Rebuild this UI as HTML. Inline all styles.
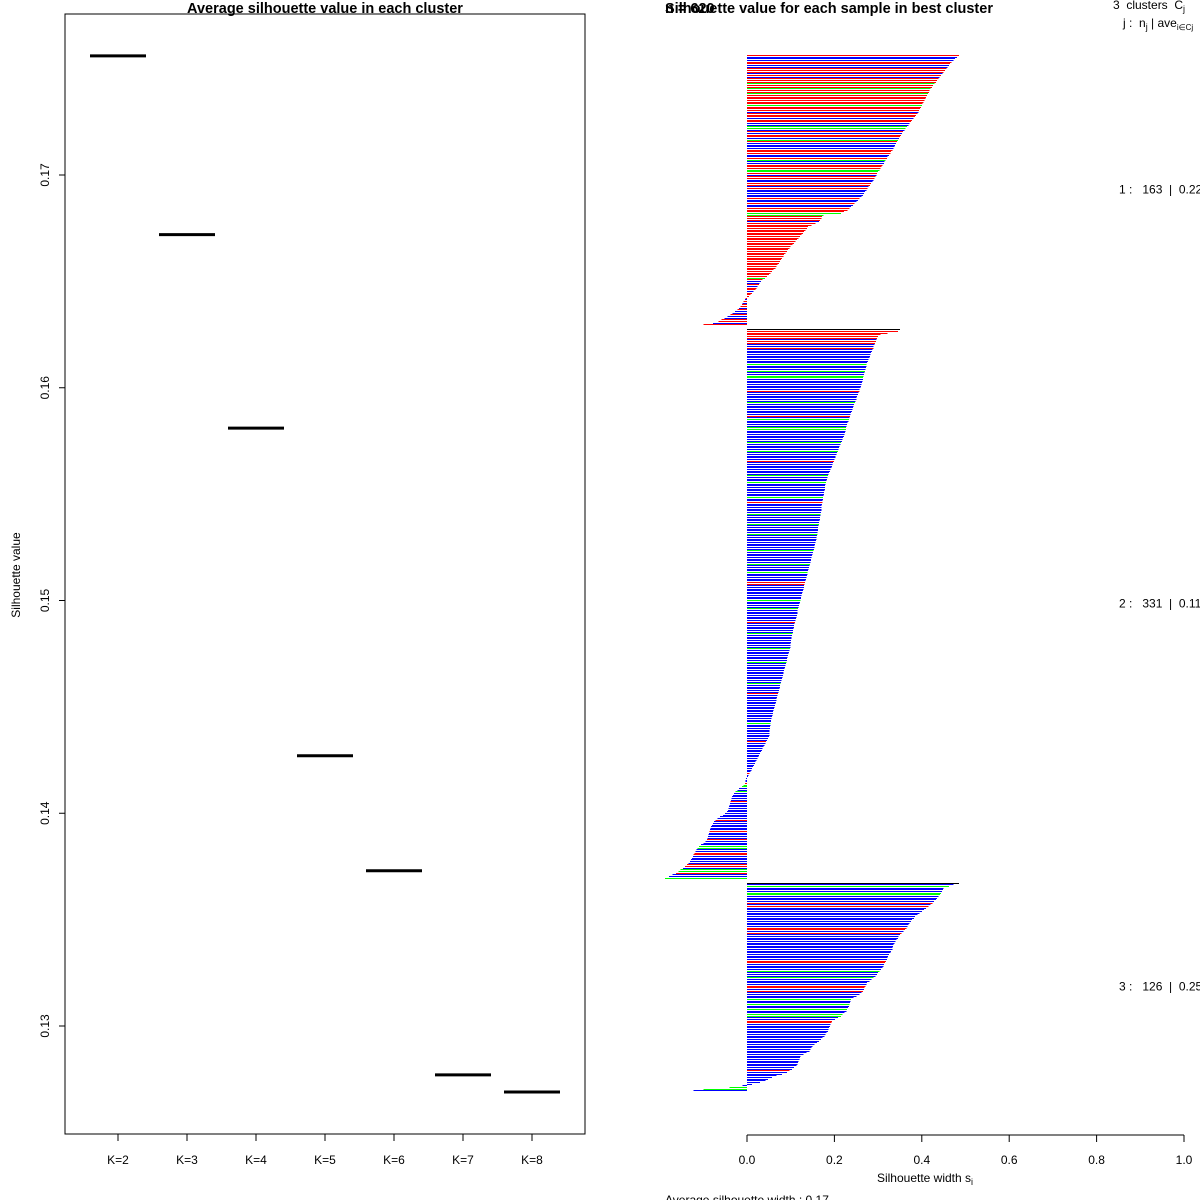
<!DOCTYPE html>
<html><head><meta charset="utf-8"><style>
html,body{margin:0;padding:0;background:#fff}
svg{display:block;font-family:"Liberation Sans",sans-serif}
</style></head><body>
<svg id="c" width="1200" height="1200" viewBox="0 0 1200 1200">
<rect x="0" y="0" width="1200" height="1200" fill="#fff"/>
<g id="left">
<rect x="65" y="14" width="520" height="1120" fill="none" stroke="#000" stroke-width="1"/>
<text x="325" y="13" text-anchor="middle" font-size="14.5" font-weight="bold">Average silhouette value in each cluster</text>
<text transform="translate(20,575) rotate(-90)" text-anchor="middle" font-size="12">Silhouette value</text>
</g>
<g id="right">
<text x="665" y="13" font-size="14.5" font-weight="bold">n = 620</text>
<text x="665" y="13" font-size="14.5" font-weight="bold">Silhouette value for each sample in best cluster</text>
<text x="1113" y="9" font-size="12" style="white-space:pre">3  clusters  C<tspan font-size="9" dy="3">j</tspan></text>
<text x="1123" y="27" font-size="12" style="white-space:pre">j :  n<tspan font-size="9" dy="3">j</tspan><tspan dy="-3"> | ave</tspan><tspan font-size="8" dy="3">i∈Cj</tspan><tspan dy="-3">  s</tspan></text>
<line x1="747" y1="1135" x2="1184" y2="1135" stroke="#000"/>
<text x="925" y="1182" text-anchor="middle" font-size="12">Silhouette width s<tspan font-size="9" dy="3">i</tspan></text>
<text x="665" y="1204" font-size="12">Average silhouette width :  0.17</text>
</g>
</svg>
<script>
// Left chart data
const kLabels = ["K=2","K=3","K=4","K=5","K=6","K=7","K=8"];
const kAvg = [0.1756,0.1672,0.1581,0.1427,0.1373,0.1277,0.1269];
const yTicks = [0.13,0.14,0.15,0.16,0.17];
const yTickLabels = ["0.13","0.14","0.15","0.16","0.17"];
// Right chart data (silhouette widths in thousandths, per cluster, sorted)
const clusterNames = ["1","2","3"];
const clusterSizes = [163,331,126];
const clusterAvg = ["0.22","0.11","0.25"];
const sil1 = [485,480,476,472,468,465,462,459,456,453,450,447,444,441,438,435,432,429,426,423,420,418,416,414,412,410,408,406,404,402,400,398,396,394,392,390,387,384,381,378,375,372,369,366,363,360,357,355,352,350,348,345,343,341,339,337,335,333,330,328,325,322,320,317,315,313,310,308,305,303,300,298,296,294,292,290,287,284,281,278,276,273,270,268,265,262,258,254,250,246,242,238,234,230,222,215,175,172,170,167,165,157,148,140,137,134,131,128,125,121,118,114,111,107,104,100,97,94,91,88,85,83,80,78,75,73,70,68,65,61,57,54,50,46,41,36,32,29,27,24,22,19,15,12,8,5,-3,-5,-8,-10,-12,-15,-18,-22,-28,-33,-38,-45,-52,-58,-65,-78,-100];
const sil2 = [350,345,322,305,300,298,296,295,293,292,290,289,287,286,284,283,281,280,278,277,275,274,273,272,271,270,269,268,267,266,265,264,263,262,261,260,258,257,255,254,252,251,250,248,247,245,244,243,241,240,238,237,236,234,233,232,230,229,228,227,226,225,224,223,222,220,218,217,215,214,212,211,209,208,206,205,203,202,200,199,197,196,194,193,191,190,188,187,185,184,183,182,181,180,179,178,178,177,176,176,175,174,174,173,173,172,171,171,170,170,169,168,168,167,167,166,165,165,164,163,163,162,161,161,160,159,159,158,157,156,155,154,153,152,151,150,149,148,147,146,145,144,143,142,141,140,139,138,137,136,135,134,133,132,131,130,129,128,127,126,125,124,123,122,121,120,119,118,117,116,115,115,114,113,112,111,110,109,108,107,106,105,105,104,103,102,102,101,101,100,100,99,98,97,96,95,94,93,92,91,90,89,88,87,86,85,84,83,82,81,80,79,78,77,76,75,74,73,72,71,70,69,68,67,66,65,64,63,62,61,60,59,58,57,56,55,55,54,54,53,53,52,52,51,51,50,48,46,44,42,40,38,36,34,32,30,28,26,24,22,20,18,16,14,12,10,8,6,4,2,-2,-3,-4,-5,-8,-12,-18,-22,-26,-30,-32,-34,-36,-37,-38,-39,-40,-41,-42,-44,-46,-50,-55,-62,-68,-72,-75,-78,-80,-82,-84,-85,-86,-87,-88,-89,-90,-92,-95,-100,-105,-110,-113,-116,-118,-120,-122,-124,-126,-128,-131,-134,-137,-142,-147,-152,-157,-163,-170,-178,-188];
const sil3 = [485,472,462,450,448,446,444,442,438,435,432,428,424,420,415,410,405,400,395,390,385,382,378,375,372,370,367,365,362,358,354,350,347,345,342,340,338,335,334,333,333,330,328,325,323,321,320,318,316,314,312,310,307,303,300,297,294,290,285,280,275,273,271,269,268,265,262,258,251,244,238,237,236,235,233,231,229,228,223,219,215,208,201,195,193,191,190,188,186,185,182,180,177,173,169,165,160,155,150,148,145,143,136,129,122,121,120,118,117,115,113,108,103,97,92,80,68,57,48,42,30,12,-10,-40,-99,-122];
const col1 = ["rbbbrrbbrr","rbrbrrrgrr","grrgrrrrrr","grrrbrrrbr","rbbggbrbrr","bgrbbbbrrr","bbrgbbrrrg","grbrrbbrrb","rbbbbbrbbr","bbrrrggrrr","brrrrrrrrr","rrrrrrrrrr","rrrrrrrrrr","rrrrgrbbrb","rrbrrrrbrb","rrbrbbrbbr","rbr"].join("");
const col2 = ["krrrrrbrrb","brbbbbbbbb","bgbbbgbbgg","bbbbbbbrbb","bbbbgbbbbb","bbrbgbbbbg","gbbbbbbbgb","bbbgbbbbbr","bbbbbbbbgb","bbgbbbbbbb","bgbbrbbbbb","bgbbbbbgbb","bbbgbbbbbb","bbbgbbbbbb","bgbbbbgbbb","bbrrbbbbbb","bbbgbbbbgb","bbbbbbrbbb","bbbgbbbbbb","bbgbbbbbbb","gbbbbbbbbb","bbbgbbbbbr","bbbbbbbbbb","bbbbbbbgbb","bbbbbbbbrb","bbbbbbbbbb","bbbbbbbrbb","bbbrggbbgb","bbbbrbbbbb","bbbbbrbbbb","bbrbbbbrbb","bggbbrrbbb","bbrrbggrbbg"].join("");
const col3 = ["kbgbbbggbb","bbrbrbbbbb","bbbbbbbrrb","rbbbbbbbbb","bbbbbbbrrb","bbbgbbbgbb","bbrrbrbbbb","gbbgbbgbbg","gbbrrbbbbb","bbbbbbbbbb","bbbbbbbbbb","bbbrbbbbbb","bbbggb"].join("");
const xTicks = [0,0.2,0.4,0.6,0.8,1.0];
const xTickLabels = ["0.0","0.2","0.4","0.6","0.8","1.0"];

const NS = "http://www.w3.org/2000/svg";
const L = document.getElementById('left');
const R = document.getElementById('right');
function mk(tag, parent, attrs){const e=document.createElementNS(NS,tag);for(const k in attrs)e.setAttribute(k,attrs[k]);parent.appendChild(e);return e;}

const yL = v => 175 + (0.17 - v) * 21275;
const xL = i => 118 + i * 69;
yTicks.forEach((t,i)=>{
  const ln = mk('line',L,{x1:59,x2:65,y1:yL(t),y2:yL(t),stroke:'#000'});
  
  
  const tx = mk('text',L,{transform:`translate(49,${yL(t)}) rotate(-90)`,'text-anchor':'middle','font-size':12});
  
  
  tx.textContent = yTickLabels[i];
});
kLabels.forEach((k,i)=>{
  const ln = mk('line',L,{x1:xL(i),x2:xL(i),y1:1134,y2:1141,stroke:'#000'});
  
  
  const tx = mk('text',L,{x:xL(i),y:1164,'text-anchor':'middle','font-size':12});
  
  
  tx.textContent = k;
  const seg = mk('line',L,{x1:xL(i)-28,x2:xL(i)+28,y1:yL(kAvg[i]),y2:yL(kAvg[i]),stroke:'#000','stroke-width':3});
  
  
});

const xR = v => 747 + v * 437;
const yR = u => 55 + u * 1.662;
const cmap = {r:'#ff0000',b:'#0000ff',g:'#00ff00',k:'#000000'};
const sils = [sil1,sil2,sil3];
const cols = [col1,col2,col3];
let unit = 0;
sils.forEach((s,ci)=>{
  const start = unit;
  s.forEach((v,j)=>{
    const val = v/1000;
    const x0 = Math.min(xR(0), xR(val)), w = Math.max(Math.abs(xR(val)-xR(0)),0.5);
    const b = mk('rect',R,{x:x0,y:Math.round(yR(unit)),width:w,height:1,fill:cmap[cols[ci][j]]||'#0000ff','shape-rendering':'crispEdges'});
    
    
    unit++;
  });
  const mid = (yR(start)+yR(unit-1))/2;
  const lab = mk('text',R,{x:1119,y:mid+4,'font-size':12,style:'white-space:pre'});
  
  
  lab.textContent = clusterNames[ci]+' :   '+clusterSizes[ci]+'  |  '+clusterAvg[ci];
  unit += 2;
});
xTicks.forEach((t,i)=>{
  const ln = mk('line',R,{x1:xR(t),x2:xR(t),y1:1135,y2:1142,stroke:'#000'});
  
  
  const tx = mk('text',R,{x:xR(t),y:1164,'text-anchor':'middle','font-size':12});
  
  
  tx.textContent = xTickLabels[i];
});
</script>
</body></html>
